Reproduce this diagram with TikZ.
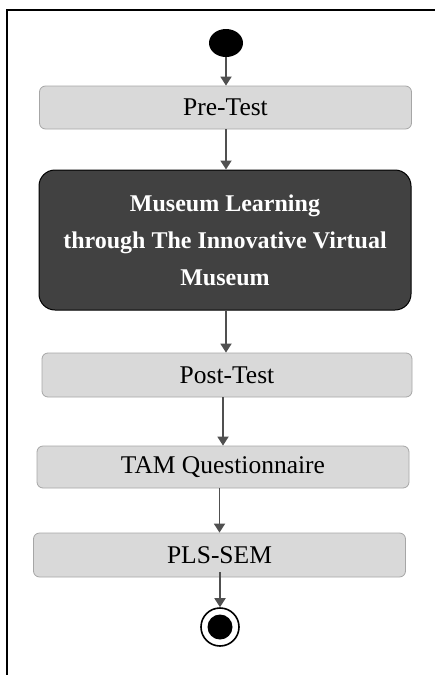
\documentclass[tikz,border=0pt]{standalone}
\usepackage{fontspec}
\setmainfont{Liberation Serif}
\usetikzlibrary{arrows.meta,shapes.geometric}
\definecolor{boxgray}{HTML}{D9D9D9}
\definecolor{boxedge}{HTML}{A6A6A6}
\definecolor{darkbox}{HTML}{414141}
\definecolor{arrowgray}{HTML}{505050}
\begin{document}
\begin{tikzpicture}[x=1pt,y=-1pt,
  stepbox/.style={draw=boxedge, line width=0.8pt, fill=boxgray, rounded corners=6pt,
    minimum width=372pt, minimum height=43pt, inner sep=0pt,
    font=\fontsize{25.5}{30}\selectfont},
  mainbox/.style={draw=black, line width=1pt, fill=darkbox, rounded corners=16pt,
    minimum width=372pt, minimum height=140pt, inner sep=0pt, text=white, align=center,
    font=\fontsize{24}{37}\selectfont\bfseries},
  flow/.style={draw=arrowgray, line width=1.8pt, -{Triangle[width=11pt,length=9pt]}},
  frame/.style={draw=black, line width=2pt}
]
\useasboundingbox (0,0) rectangle (435,675);

% outer frame (left and top edges)
\draw[frame] (7,675) -- (7,10) -- (435,10);

% initial and final states
\node[ellipse, fill=black, minimum width=34pt, minimum height=28pt, inner sep=0pt] (start) at (226,43) {};
\node[circle, draw=black, line width=1.6pt, fill=white, minimum size=38pt, inner sep=0pt] (stop) at (220,627) {};
\node[circle, fill=black, minimum size=25pt, inner sep=0pt] (stopcore) at (stop) {};

% activities
\node[stepbox] (pre) at (225.5,107.5) {Pre-Test};
\node[mainbox] (museum) at (225,240) {Museum Learning\\through The Innovative Virtual\\Museum};
\node[stepbox, minimum width=370pt, minimum height=44pt] (post) at (227,375) {Post-Test};
\node[stepbox, minimum height=42pt] (tam) at (223,467) {TAM Questionnaire};
\node[stepbox, minimum height=44pt] (pls) at (219.5,555) {PLS-SEM};

% control flow
\draw[flow] (start.south) -- (start |- pre.north);
\draw[flow] (pre.south -| start) -- (start |- museum.north);
\draw[flow] (museum.south -| start) -- (start |- post.north);
\draw[flow] (tam.north |- post.south) -- (tam.north);
\draw[flow] (pls.north |- tam.south) -- (pls.north);
\coordinate (plsout) at ([yshift=5pt]stop |- pls.south);
\draw[flow] (plsout) -- (stop.north);
\end{tikzpicture}
\end{document}
